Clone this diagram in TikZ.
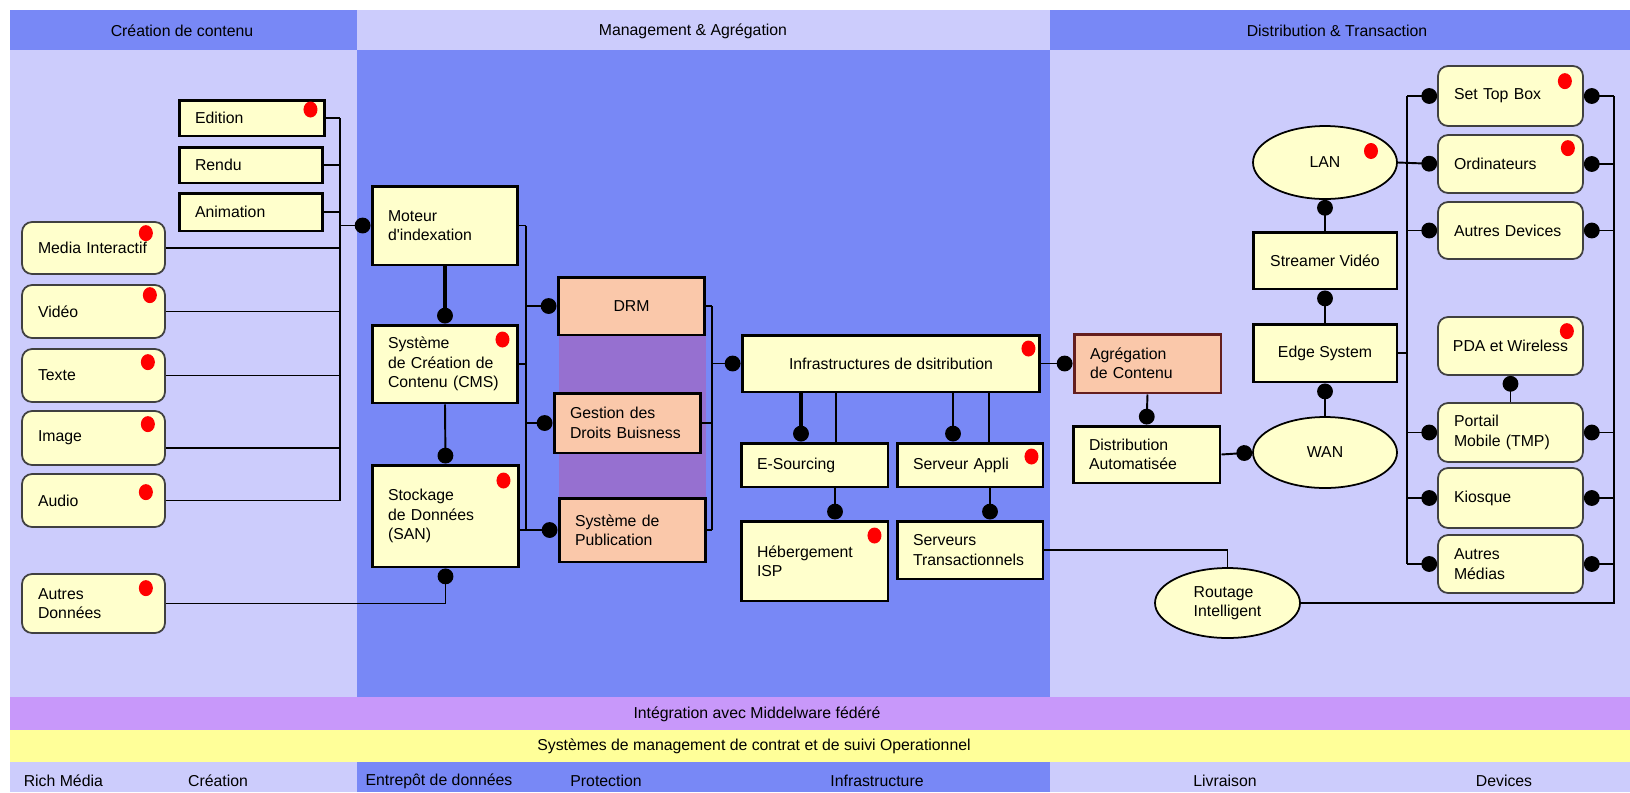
\documentclass[tikz,border=0pt]{standalone}
\usepackage{fontspec}
\setmainfont{Liberation Sans}
\usepackage{xcolor}
\usetikzlibrary{arrows.meta,shapes.geometric}

\definecolor{hdrdark}{RGB}{120,136,246}
\definecolor{hdrlight}{RGB}{204,204,252}
\definecolor{bandpurple}{RGB}{200,152,250}
\definecolor{bandyellow}{RGB}{255,255,153}
\definecolor{boxfill}{RGB}{255,255,204}
\definecolor{salmon}{RGB}{250,200,170}
\definecolor{barpurple}{RGB}{150,112,208}
\definecolor{agregborder}{RGB}{100,30,30}

\begin{document}
\begin{tikzpicture}[x=0.02cm,y=-0.02cm,line width=1.1pt,
    font=\fontsize{9}{11}\selectfont,
    sqbox/.style={rectangle,draw,line width=1.7pt,fill=boxfill,
                  inner xsep=0.32cm,inner ysep=2pt},
    rdbox/.style={rectangle,rounded corners=0.2cm,draw=black!75,
                  line width=1pt,fill=boxfill,inner xsep=0.32cm,inner ysep=2pt},
    salbox/.style={sqbox,fill=salmon},
    ovbox/.style={ellipse,draw,line width=1pt,fill=boxfill,inner sep=1pt},
    lft/.style={text width=#1,align=left},
    reddot/.style={ellipse,fill=red,inner sep=0pt,
                   minimum width=0.28cm,minimum height=0.32cm},
    tipdot/.style={-{Circle[length=9pt,width=9pt]}},
    taildot/.style={{Circle[length=9pt,width=9pt]}-}
    ]

    \useasboundingbox (0,0) rectangle (1630,792);
    \fill[white] (0,0) rectangle (1630,792);

    %column backgrounds
    \fill[hdrdark] (10,10) rectangle (357,50);
    \fill[hdrlight] (357,10) rectangle (1050,50);
    \fill[hdrdark] (1050,10) rectangle (1630,50);
    \fill[hdrlight] (10,50) rectangle (357,697);
    \fill[hdrdark] (357,50) rectangle (1050,697);
    \fill[hdrlight] (1050,50) rectangle (1630,697);
    \fill[bandpurple] (10,697) rectangle (1630,730);
    \fill[bandyellow] (10,730) rectangle (1630,762);
    \fill[hdrlight] (10,762) rectangle (357,792);
    \fill[hdrdark] (357,762) rectangle (1050,792);
    \fill[hdrlight] (1050,762) rectangle (1630,792);
    \fill[barpurple] (559,335) rectangle (706,498);

    %headers and bands
    \node (hcrea) at (182,31) {Création de contenu};
    \node (hmgmt) at (693,31) {Management \& Agrégation};
    \node (hdist) at (1337,31) {Distribution \& Transaction};
    \node (bmidw) at (757,714) {Intégration avec Middelware fédéré};
    \node (bsuivi) at (754,746) {Systèmes de management de contrat et de suivi Operationnel};

    \node[anchor=west] (lrich) at (17,781) {Rich Média};
    \node (lcrea) at (218,781) {Création};
    \node (lentr) at (439,781) {Entrepôt de données};
    \node (lprot) at (606,781) {Protection};
    \node (linfr) at (877,781) {Infrastructure};
    \node (lliv) at (1225,781) {Livraison};
    \node (ldev) at (1504,781) {Devices};

    %content creation
    \node[sqbox,lft=2.28cm,minimum height=0.72cm] (edit) at (252,118) {Edition};
    \node[sqbox,lft=2.24cm,minimum height=0.72cm] (rendu) at (251,165) {Rendu};
    \node[sqbox,lft=2.24cm,minimum height=0.76cm] (anim) at (251,212) {Animation};

    \node[rdbox,lft=2.22cm,minimum height=1.04cm] (media) at (93.5,248) {Media Interactif};
    \node[rdbox,lft=2.22cm,minimum height=1.06cm] (video) at (93.5,311.5) {Vidéo};
    \node[rdbox,lft=2.22cm,minimum height=1.06cm] (texte) at (93.5,375.5) {Texte};
    \node[rdbox,lft=2.22cm,minimum height=1.08cm] (image) at (93.5,438) {Image};
    \node[rdbox,lft=2.22cm,minimum height=1.06cm] (audio) at (93.5,500.5) {Audio};
    \node[rdbox,lft=2.22cm,minimum height=1.18cm] (autres) at (93.5,603.5) {Autres\\Données};

    %management
    \node[sqbox,lft=2.28cm,minimum height=1.58cm] (moteur) at (445,225.5) {Moteur\\d\textquotesingle indexation};
    \node[sqbox,lft=2.28cm,minimum height=1.56cm] (cms) at (445,364) {Système\\de Création de\\Contenu (CMS)};
    \node[sqbox,lft=2.3cm,minimum height=2.04cm] (stock) at (445.5,516) {Stockage\\de Données\\(SAN)};

    \node[salbox,minimum width=2.94cm,minimum height=1.16cm] (drm) at (631.5,306) {DRM};
    \node[salbox,lft=2.3cm,minimum height=1.2cm] (gestion) at (627.5,423) {Gestion des\\Droits Buisness};
    \node[salbox,lft=2.3cm,minimum height=1.28cm] (pub) at (632.5,530) {Système de\\Publication};

    \node[sqbox,minimum width=5.96cm,minimum height=1.14cm] (infra) at (891,363.5) {Infrastructures de dsitribution};
    \node[sqbox,lft=2.3cm,minimum height=0.88cm] (esrc) at (814.5,465) {E-Sourcing};
    \node[sqbox,lft=2.28cm,minimum height=0.88cm] (sapp) at (970,465) {Serveur Appli};
    \node[sqbox,lft=2.3cm,minimum height=1.6cm] (heberg) at (814.5,561) {Hébergement\\ISP};
    \node[sqbox,lft=2.28cm,minimum height=1.16cm] (strans) at (970,550) {Serveurs\\Transactionnels};

    %distribution
    \node[salbox,draw=agregborder,lft=2.3cm,minimum height=1.18cm] (agreg) at (1147.5,363.5) {Agrégation\\de Contenu};
    \node[sqbox,lft=2.3cm,minimum height=1.14cm] (distrib) at (1146.5,454.5) {Distribution\\Automatisée};
    \node[ovbox,minimum width=2.88cm,minimum height=1.46cm] (lan) at (1325,162.5) {LAN};
    \node[sqbox,minimum width=2.88cm,minimum height=1.14cm] (stream) at (1325,260.5) {Streamer Vidéo};
    \node[sqbox,minimum width=2.88cm,minimum height=1.16cm] (edge) at (1325,353) {Edge System};
    \node[ovbox,minimum width=2.88cm,minimum height=1.42cm] (wan) at (1325,452.5) {WAN};
    \node[ovbox,minimum width=2.9cm,minimum height=1.4cm,align=left] (routage) at (1227.5,603) {Routage\\Intelligent};

    \node[rdbox,lft=2.26cm,minimum height=1.2cm] (stb) at (1510.5,96) {Set Top Box};
    \node[rdbox,lft=2.26cm,minimum height=1.16cm] (ordi) at (1510.5,164) {Ordinateurs};
    \node[rdbox,lft=2.26cm,minimum height=1.14cm] (autdev) at (1510.5,230.5) {Autres Devices};
    \node[rdbox,inner xsep=0.2cm,minimum width=2.9cm,minimum height=1.16cm] (pda) at (1510.5,346) {PDA et Wireless};
    \node[rdbox,lft=2.26cm,minimum height=1.18cm] (portail) at (1510.5,432.5) {Portail\\Mobile (TMP)};
    \node[rdbox,lft=2.26cm,minimum height=1.2cm] (kiosque) at (1510.5,498) {Kiosque};
    \node[rdbox,lft=2.26cm,minimum height=1.16cm] (autmed) at (1510.5,564) {Autres\\Médias};

    %red markers
    \node[reddot] (edit-r) at ([xshift=-0.32cm,yshift=-0.22cm]edit.north east) {};
    \node[reddot] (media-r) at ([xshift=-0.4cm,yshift=-0.24cm]media.north east) {};
    \node[reddot] (video-r) at ([xshift=-0.32cm,yshift=-0.22cm]video.north east) {};
    \node[reddot] (texte-r) at ([xshift=-0.36cm,yshift=-0.28cm]texte.north east) {};
    \node[reddot] (image-r) at ([xshift=-0.36cm,yshift=-0.28cm]image.north east) {};
    \node[reddot] (audio-r) at ([xshift=-0.4cm,yshift=-0.38cm]audio.north east) {};
    \node[reddot] (autres-r) at ([xshift=-0.4cm,yshift=-0.3cm]autres.north east) {};
    \node[reddot] (cms-r) at ([xshift=-0.34cm,yshift=-0.32cm]cms.north east) {};
    \node[reddot] (stock-r) at ([xshift=-0.34cm,yshift=-0.34cm]stock.north east) {};
    \node[reddot] (infra-r) at ([xshift=-0.26cm,yshift=-0.3cm]infra.north east) {};
    \node[reddot] (sapp-r) at ([xshift=-0.26cm,yshift=-0.3cm]sapp.north east) {};
    \node[reddot] (heberg-r) at ([xshift=-0.3cm,yshift=-0.32cm]heberg.north east) {};
    \node[reddot] (stb-r) at ([xshift=-0.38cm,yshift=-0.32cm]stb.north east) {};
    \node[reddot] (ordi-r) at ([xshift=-0.32cm,yshift=-0.28cm]ordi.north east) {};
    \node[reddot] (pda-r) at ([xshift=-0.34cm,yshift=-0.3cm]pda.north east) {};
    \node[reddot] (lan-r) at ([xshift=0.92cm,yshift=0.23cm]lan.center) {};

    %bus lines
    \coordinate (lbus) at (340,0);
    \coordinate (mbusl) at (526,0);
    \coordinate (mbusr) at (712,0);
    \coordinate (dbusl) at (1407,0);
    \coordinate (dbusr) at (1614,0);

    %rich media to indexing
    \draw (edit.east) -- (edit.east -| lbus);
    \draw (rendu.east) -- (rendu.east -| lbus);
    \draw (anim.east) -- (anim.east -| lbus);
    \draw (media.east) -- (media.east -| lbus);
    \draw (video.east) -- (video.east -| lbus);
    \draw (texte.east) -- (texte.east -| lbus);
    \draw ([yshift=-0.2cm]image.east) -- ([yshift=-0.2cm]image.east -| lbus);
    \draw (audio.east) -- (audio.east -| lbus);
    \draw (edit.east -| lbus) -- (audio.east -| lbus);
    \draw[tipdot] (moteur.west -| lbus) -- (moteur.west);
    \draw[tipdot] (autres.east) -| (stock.south);

    %management chain
    \draw[line width=2.3pt,tipdot] (moteur.south) -- (cms.north);
    \draw[tipdot] (cms.south) -- (stock.north);
    \draw (moteur.east) -- (moteur.east -| mbusl);
    \draw (cms.east) -- (cms.east -| mbusl);
    \draw (moteur.east -| mbusl) -- (pub.west -| mbusl);
    \draw[tipdot] (drm.west -| mbusl) -- (drm.west);
    \draw[tipdot] (gestion.west -| mbusl) -- (gestion.west);
    \draw[tipdot] (stock.east |- pub.west) -- (pub.west);

    \draw (drm.east) -- (drm.east -| mbusr);
    \draw (gestion.east) -- (gestion.east -| mbusr);
    \draw (pub.east) -- (pub.east -| mbusr);
    \draw (drm.east -| mbusr) -- (pub.east -| mbusr);
    \draw[tipdot] (infra.west -| mbusr) -- (infra.west);

    %infrastructure children
    \coordinate (esA) at ([xshift=-0.27cm]esrc.north);
    \coordinate (esB) at ([xshift=0.43cm]esrc.north);
    \coordinate (saA) at ([xshift=-0.34cm]sapp.north);
    \coordinate (saB) at ([xshift=0.38cm]sapp.north);
    \coordinate (hbA) at ([xshift=0.41cm]heberg.north);
    \coordinate (stA) at ([xshift=0.4cm]strans.north);
    \draw[line width=2.3pt,tipdot] (esA |- infra.south) -- (esA);
    \draw (esB |- infra.south) -- (esB);
    \draw[tipdot] (saA |- infra.south) -- (saA);
    \draw (saB |- infra.south) -- (saB);
    \draw[tipdot] (esrc.south -| hbA) -- (hbA);
    \draw[tipdot] (sapp.south -| stA) -- (stA);

    \draw[tipdot] (infra.east) -- (agreg.west);
    \draw (strans.east) -| (routage.north);

    %distribution side
    \draw[tipdot] (agreg.south) -- (distrib.north);
    \draw[tipdot] (distrib.east) -- (wan.west);
    \draw[taildot] (lan.south) -- (stream.north);
    \draw[taildot] (stream.south) -- (edge.north);
    \draw[taildot] (edge.south) -- (wan.north);
    \draw[tipdot] (lan.east) -- (ordi.west);
    \draw (edge.east) -- (edge.east -| dbusl);
    \draw (stb.west -| dbusl) -- (autmed.west -| dbusl);
    \draw[tipdot] (stb.west -| dbusl) -- (stb.west);
    \draw[tipdot] (autdev.west -| dbusl) -- (autdev.west);
    \draw[tipdot] (portail.west -| dbusl) -- (portail.west);
    \draw[tipdot] (kiosque.west -| dbusl) -- (kiosque.west);
    \draw[tipdot] (autmed.west -| dbusl) -- (autmed.west);
    \draw[taildot] (pda.south) -- (portail.north);

    \draw[taildot] (stb.east) -- (stb.east -| dbusr);
    \draw[taildot] (ordi.east) -- (ordi.east -| dbusr);
    \draw[taildot] (autdev.east) -- (autdev.east -| dbusr);
    \draw[taildot] (portail.east) -- (portail.east -| dbusr);
    \draw[taildot] (kiosque.east) -- (kiosque.east -| dbusr);
    \draw[taildot] (autmed.east) -- (autmed.east -| dbusr);
    \draw (routage.east) -| (stb.east -| dbusr);

\end{tikzpicture}
\end{document}
